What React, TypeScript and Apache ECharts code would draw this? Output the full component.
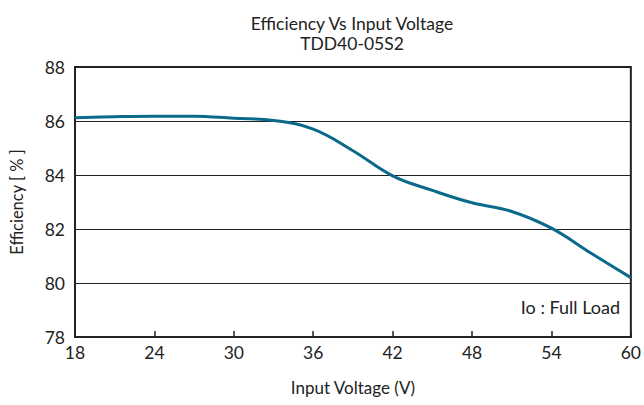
import React, { useEffect, useRef } from "react";
import * as echarts from "echarts";

const voltages = [18, 21, 24, 27, 30, 33, 36, 39, 42, 45, 48, 51, 54, 57, 60];
const efficiency = [86.12, 86.16, 86.18, 86.18, 86.1, 86.02, 85.7, 84.9, 83.97, 83.43, 82.97, 82.65, 82.03, 81.1, 80.2];
const titleLines = ["Efficiency Vs Input Voltage", "TDD40-05S2"];
const xName = "Input Voltage (V)";
const yName = "Efficiency [ % ]";
const note = "Io : Full Load";

const FONT = "Lato, 'Open Sans', sans-serif";

export default function App() {
  const ref = useRef<HTMLDivElement>(null);
  useEffect(() => {
    if (!ref.current) return;
    const chart = echarts.init(ref.current, undefined, { renderer: "svg" });
    chart.setOption({
      animation: false,
      backgroundColor: "#ffffff",
      textStyle: { fontFamily: FONT },
      title: {
        text: titleLines.join("\n"),
        left: 347,
        top: 8,
        textAlign: "center",
        textStyle: { fontSize: 17.5, fontWeight: "normal", color: "#222", lineHeight: 20, fontFamily: FONT },
      },
      grid: {
        left: 72,
        right: 12,
        top: 67,
        bottom: 68,
        show: true,
        borderColor: "#222",
        borderWidth: 2,
        backgroundColor: "transparent",
      },
      xAxis: {
        type: "value",
        min: 18,
        max: 60,
        interval: 6,
        name: xName,
        nameLocation: "middle",
        nameGap: 42,
        nameTextStyle: { fontSize: 17, color: "#222", fontFamily: FONT },
        axisLine: { show: true, lineStyle: { color: "#222", width: 2 } },
        axisTick: { show: true, inside: true, length: 6, lineStyle: { color: "#222", width: 1.5 } },
        axisLabel: { fontSize: 17.5, color: "#222", margin: 6, fontFamily: FONT },
        splitLine: { show: false },
      },
      yAxis: {
        type: "value",
        min: 78,
        max: 88,
        interval: 2,
        name: yName,
        nameLocation: "middle",
        nameGap: 50,
        nameTextStyle: { fontSize: 16.5, color: "#222", fontFamily: FONT },
        axisLine: { show: true, lineStyle: { color: "#222", width: 2 } },
        axisTick: { show: false },
        axisLabel: { fontSize: 17.5, color: "#222", margin: 10, fontFamily: FONT },
        splitLine: { show: true, lineStyle: { color: "#222", width: 1 } },
      },
      graphic: [
        {
          type: "text",
          right: 24,
          top: 298,
          style: { text: note, fontSize: 18, fill: "#222", fontFamily: FONT },
        },
      ],
      series: [
        {
          type: "line",
          data: voltages.map((v, i) => [v, efficiency[i]]),
          smooth: 0.4,
          showSymbol: false,
          lineStyle: { color: "#0b6a8c", width: 3 },
        },
      ],
    });
    return () => chart.dispose();
  }, []);
  return <div ref={ref} style={{ position: "fixed", left: 0, top: 0, width: 644, height: 405 }} />;
}
